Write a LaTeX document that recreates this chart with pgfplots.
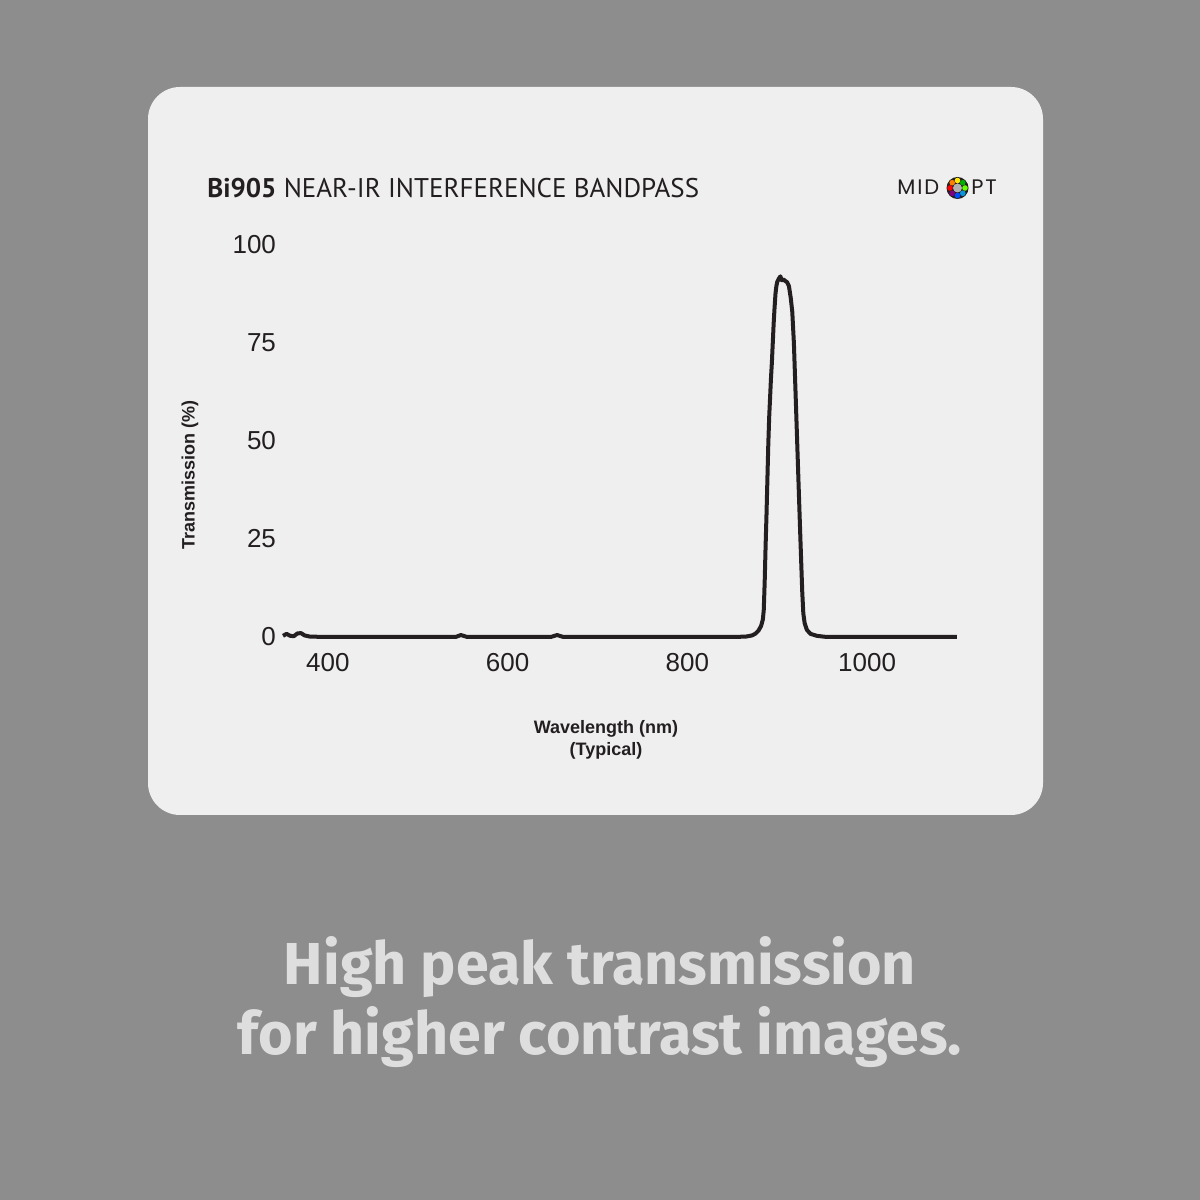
\documentclass[border=0pt]{standalone}
\usepackage{pgfplots}
\pgfplotsset{compat=1.18}
\usepackage{fontspec}
\setmainfont{Liberation Sans}
\newfontfamily\titlefont{PT Sans}
\newfontfamily\bigfont{Fira Sans}
\newfontfamily\logofont[LetterSpace=9]{Poppins}
\definecolor{bg}{HTML}{8D8D8D}
\definecolor{panel}{HTML}{EFEFEF}
\definecolor{ink}{HTML}{231F20}
\definecolor{capc}{HTML}{DEDEDE}
\pgfplotstableread{
wl T
350 0.3
354 0.8
358 0.3
362 0.2
366 0.9
370 1.0
374 0.4
380 0.1
400 0.0
500 0.0
542 0.0
548 0.5
555 0.0
600 0.0
648 0.0
655 0.5
662 0.0
700 0.0
800 0.0
850 0.0
865 0.1
872 0.4
876 0.9
879 1.6
882 2.8
884 4.5
885 7
886 14
887 23
888 31
889 40
890 49
891 56
892 61
893 66
894 70
895 75
896 80
897 84
898 87.5
899 89.5
900 90.6
902 91.5
903.5 92
905 91
907 91.2
909 90.8
911 90.5
913 89.5
915 86.5
916.7 83
918.5 75
920.4 62
922.2 49.5
924 37
925.9 24
927.8 11.5
929 6
930.5 3.5
933 1.8
937 0.8
944 0.3
955 0.0
1000 0.0
1100 0.0
}\spectrum
\begin{document}
\begin{tikzpicture}[x=0.5pt,y=0.5pt]
\fill[bg] (0,0) rectangle (1200,1200);
\fill[panel, rounded corners=16pt] (148,385) rectangle (1043,1113);
\node[anchor=base west, inner sep=0, font=\titlefont\fontsize{13.5}{16}\selectfont, text=ink] at (207,1002) {\textbf{Bi905} NEAR-IR INTERFERENCE BANDPASS};
% logo
\node[anchor=base west, inner sep=0, font=\logofont\fontsize{10.5}{12}\selectfont, text=ink] at (897,1005) {MID};
\node[anchor=base west, inner sep=0, font=\logofont\fontsize{10.5}{12}\selectfont, text=ink] at (971,1005) {PT};
\fill[ink] (957.5,1012) circle (11);
\fill[gray!60] (957.5,1012) circle (4.5);
\foreach \a/\c in {90/yellow!90!orange, 45/green!70!black, 0/green!60!yellow, -45/cyan!80!blue, -90/blue!70!cyan, -135/violet, 180/red, 135/orange}{
  \fill[\c] (957.5,1012) ++(\a:7.5) circle (2.8);
}
\begin{axis}[at={(141.5pt,281.5pt)}, anchor=south west, scale only axis,
  width=337pt, height=196pt,
  xmin=350, xmax=1100, ymin=0, ymax=100,
  clip=false,
  axis line style={draw=none}, tick style={draw=none},
  xtick={400,600,800,1000}, ytick={0,25,50,75,100},
  /pgf/number format/assume math mode=true,
  /pgf/number format/1000 sep={},
  ticklabel style={font=\fontsize{13}{15}\selectfont, text=ink},
  xticklabel style={yshift=-4.5pt},
]
\addplot[ink, line width=2pt, line join=round] table[x=wl, y=T] {\spectrum};
\end{axis}
\node[rotate=90, font=\bfseries\fontsize{9}{11}\selectfont, text=ink] at (190,725) {Transmission (\%)};
\node[align=center, font=\bfseries\fontsize{9}{11}\selectfont, text=ink] at (606,460) {Wavelength (nm)\\(Typical)};
\node[anchor=base, inner sep=0, font=\bigfont\bfseries\fontsize{29.6}{34}\selectfont, text=capc] at (600,215) {High peak transmission};
\node[anchor=base, inner sep=0, font=\bigfont\bfseries\fontsize{29.6}{34}\selectfont, text=capc] at (600,145) {for higher contrast images.};
\end{tikzpicture}
\end{document}
